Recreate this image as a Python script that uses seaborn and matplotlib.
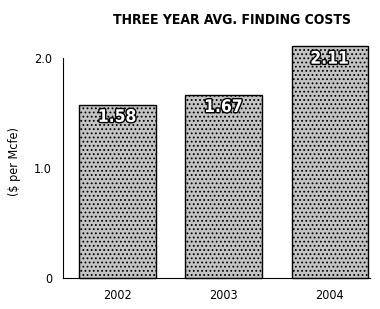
import matplotlib
matplotlib.use("Agg")
import matplotlib.pyplot as plt
import matplotlib.patheffects as pe
import pandas as pd
import seaborn as sns

years = ["2002", "2003", "2004"]
costs = [1.58, 1.67, 2.11]
cost_labels = ["1.58", "1.67", "2.11"]

sns.set_style("white")
plt.rcParams["font.family"] = ["DejaVu Sans"]
plt.rcParams["font.stretch"] = "condensed"
plt.rcParams["text.color"] = "black"
plt.rcParams["axes.labelcolor"] = "black"
plt.rcParams["xtick.color"] = "black"
plt.rcParams["ytick.color"] = "black"
plt.rcParams["hatch.color"] = "#6a6a6a"
plt.rcParams["hatch.linewidth"] = 0.8

df = pd.DataFrame({"year": years, "cost": costs})

fig = plt.figure(figsize=(3.8, 3.09), dpi=100)
ax = fig.add_axes([0.166, 0.100, 0.808, 0.757])

sns.barplot(data=df, x="year", y="cost", color="#c4c4c4", width=0.72,
            edgecolor="black", linewidth=1.0, saturation=1, ax=ax)
for bar in ax.patches:
    bar.set_hatch("....")
    bar.set_clip_on(False)

# value labels sit inside the top of each bar
for i, lab in enumerate(cost_labels):
    t = ax.text(i, costs[i] - 0.03, lab, ha="center", va="top", fontsize=12.5,
                fontweight="bold", color="white")
    t.set_path_effects([pe.Stroke(linewidth=2, foreground="black"), pe.Normal()])

ax.set_xlim(-0.51, 2.38)
ax.set_ylim(0, 2.13)
ax.set_yticks([0, 1.0, 2.0])
ax.set_yticklabels(["0", "1.0", "2.0"], fontsize=9)
ax.set_xticks([0.5, 1.5], minor=True)
ax.tick_params(axis="x", which="major", length=0, labelsize=9, pad=8)
ax.tick_params(axis="x", which="minor", direction="in", length=4, width=1, color="black")
ax.tick_params(axis="y", direction="out", length=6, width=1, color="black", pad=2)

for s in ["top", "right"]:
    ax.spines[s].set_visible(False)
ax.spines["left"].set_bounds(0, 2.0)
ax.spines["left"].set_color("black")
ax.spines["bottom"].set_color("black")

ax.set_xlabel("")
ax.set_ylabel("($ per Mcfe)", fontsize=9, labelpad=9)
fig.text(0.61, 0.935, "THREE YEAR AVG. FINDING COSTS", ha="center", va="center",
         fontsize=10, fontweight="bold")

fig.savefig("out.png", dpi=100)
